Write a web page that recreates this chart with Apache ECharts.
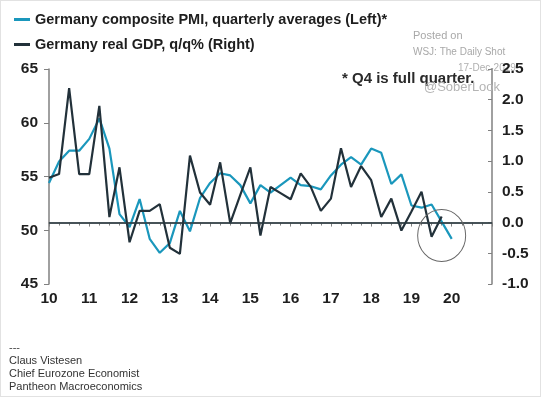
<!DOCTYPE html>
<html>
<head>
<meta charset="utf-8">
<style>
  html, body { margin: 0; padding: 0; background: #fff; }
  #chart { width: 541px; height: 397px; box-sizing: border-box; border: 1px solid #e2e2e2; }
</style>
<script src="https://cdn.jsdelivr.net/npm/echarts@6/dist/echarts.min.js"></script>
</head>
<body>
<div id="chart"></div>
<script>
// quarters, plotted at quarter end (2009Q4 sits on the "10" tick)
const quarters = [
  '2009Q4',
  '2010Q1','2010Q2','2010Q3','2010Q4',
  '2011Q1','2011Q2','2011Q3','2011Q4',
  '2012Q1','2012Q2','2012Q3','2012Q4',
  '2013Q1','2013Q2','2013Q3','2013Q4',
  '2014Q1','2014Q2','2014Q3','2014Q4',
  '2015Q1','2015Q2','2015Q3','2015Q4',
  '2016Q1','2016Q2','2016Q3','2016Q4',
  '2017Q1','2017Q2','2017Q3','2017Q4',
  '2018Q1','2018Q2','2018Q3','2018Q4',
  '2019Q1','2019Q2','2019Q3','2019Q4'
];

// composite PMI, quarterly averages (left axis)
const pmi = [
  54.4,
  56.4, 57.4, 57.4, 58.5,
  60.4, 57.6, 51.5, 50.3,
  52.9, 49.2, 47.9, 48.8,
  51.8, 49.9, 53.0, 54.4,
  55.3, 55.1, 54.2, 52.5,
  54.2, 53.5, 54.2, 54.9,
  54.2, 54.1, 53.8, 55.1,
  56.1, 56.8, 56.1, 57.6,
  57.2, 54.3, 55.2, 52.3,
  52.1, 52.4, 50.8, 49.2
];

// real GDP q/q % (right axis), up to 2019Q3
const gdp = [
  0.73,
  0.79, 2.19, 0.79, 0.79,
  1.90, 0.09, 0.90, -0.32,
  0.19, 0.19, 0.30, -0.41,
  -0.51, 1.09, 0.49, 0.29,
  0.98, -0.01, 0.45, 0.90,
  -0.21, 0.58, 0.48, 0.38,
  0.80, 0.58, 0.19, 0.39,
  1.21, 0.58, 0.92, 0.69,
  0.09, 0.39, -0.13, 0.18,
  0.50, -0.23, 0.10
];

const yearLabels = ['10','11','12','13','14','15','16','17','18','19','20'];
const leftLabels = ['45','50','55','60','65'];
const rightLabels = ['-1.0','-0.5','0.0','0.5','1.0','1.5','2.0','2.5'];

const seriesNames = [
  'Germany composite PMI, quarterly averages (Left)*',
  'Germany real GDP, q/q% (Right)'
];

const blue = '#1a97bc';
const dark = '#22313a';

// '2010Q1' -> 2010.25
function qx(q) {
  return +q.slice(0, 4) + (+q.slice(5)) / 4;
}
function pairs(vals) {
  return vals.map((v, i) => [qx(quarters[i]), v]);
}

const labelFont = { color: '#1e1e1e', fontSize: 15.5, fontWeight: 'bold', fontFamily: 'Liberation Sans, Arial, sans-serif' };

const chart = echarts.init(document.getElementById('chart'));
chart.setOption({
  animation: false,
  legend: {
    orient: 'vertical',
    left: 8,
    top: 6,
    itemGap: 10,
    itemWidth: 16,
    itemHeight: 3,
    icon: 'rect',
    data: seriesNames,
    textStyle: { color: '#1e1e1e', fontSize: 14.5, fontWeight: 'bold', fontFamily: 'Liberation Sans, Arial, sans-serif' }
  },
  grid: { left: 48, right: 48, top: 68, bottom: 112 },
  xAxis: {
    type: 'value',
    min: 2010,
    max: 2021,
    interval: 1,
    splitLine: { show: false },
    axisLine: { lineStyle: { color: '#808080', width: 1.5 } },
    axisTick: { length: 4, lineStyle: { color: '#808080' } },
    minorTick: { show: true, splitNumber: 4, length: 3, lineStyle: { color: '#808080' } },
    axisLabel: Object.assign({
      margin: 7,
      showMaxLabel: false,
      formatter: v => yearLabels[v - 2010] || ''
    }, labelFont)
  },
  yAxis: [
    {
      type: 'value',
      min: 45,
      max: 65,
      interval: 5,
      splitLine: { show: false },
      axisLine: { show: true, lineStyle: { color: '#808080', width: 1.5 } },
      axisTick: { show: true, length: 5, lineStyle: { color: '#808080' } },
      axisLabel: Object.assign({
        margin: 11,
        formatter: v => leftLabels[(v - 45) / 5]
      }, labelFont)
    },
    {
      type: 'value',
      min: -1,
      max: 2.5,
      interval: 0.5,
      position: 'right',
      splitLine: { show: false },
      axisLine: { show: true, lineStyle: { color: '#808080', width: 1.5 } },
      axisTick: { show: true, inside: true, length: 4, lineStyle: { color: '#808080' } },
      axisLabel: Object.assign({
        margin: 10,
        formatter: v => rightLabels[Math.round((v + 1) / 0.5)]
      }, labelFont)
    }
  ],
  series: [
    {
      name: seriesNames[0],
      type: 'line',
      yAxisIndex: 0,
      data: pairs(pmi),
      showSymbol: false,
      color: blue,
      lineStyle: { color: blue, width: 2.2 }
    },
    {
      name: seriesNames[1],
      type: 'line',
      yAxisIndex: 1,
      data: pairs(gdp),
      showSymbol: false,
      color: dark,
      lineStyle: { color: dark, width: 2.2 },
      markLine: {
        silent: true,
        symbol: 'none',
        label: { show: false },
        lineStyle: { color: '#2a3a40', width: 1.5, type: 'solid' },
        data: [{ yAxis: 0 }]
      },
      markPoint: {
        silent: true,
        symbol: 'circle',
        symbolSize: [48, 52],
        label: { show: false },
        itemStyle: { color: 'rgba(0,0,0,0)', borderColor: '#666', borderWidth: 1 },
        data: [{ coord: [2019.75, -0.21] }]
      }
    }
  ],
  graphic: [
    { type: 'text', left: 412, top: 29, z: 0, style: { text: 'Posted on', fill: '#a8a8a8', font: '11px Liberation Sans, Arial' } },
    { type: 'text', left: 412, top: 46, z: 0, style: { text: 'WSJ: The Daily Shot', fill: '#a8a8a8', font: '10px Liberation Sans, Arial' } },
    { type: 'text', left: 457, top: 62, z: 0, style: { text: '17-Dec-2019', fill: '#b0b0b0', font: '10px Liberation Sans, Arial' } },
    { type: 'text', left: 341, top: 70, z: 5, style: { text: '* Q4 is full quarter.', fill: '#2a2a2a', font: 'bold 15px Liberation Sans, Arial' } },
    { type: 'text', left: 423, top: 80, z: 6, style: { text: '@SoberLook', fill: '#b4b4b4', font: '13px Liberation Sans, Arial' } },
    { type: 'text', left: 8, top: 341, style: { text: '---', fill: '#444', font: '11px Liberation Sans, Arial' } },
    { type: 'text', left: 8, top: 354, style: { text: 'Claus Vistesen', fill: '#333', font: '11px Liberation Sans, Arial' } },
    { type: 'text', left: 8, top: 367, style: { text: 'Chief Eurozone Economist', fill: '#333', font: '11px Liberation Sans, Arial' } },
    { type: 'text', left: 8, top: 380, style: { text: 'Pantheon Macroeconomics', fill: '#333', font: '11px Liberation Sans, Arial' } }
  ]
});
</script>
</body>
</html>
